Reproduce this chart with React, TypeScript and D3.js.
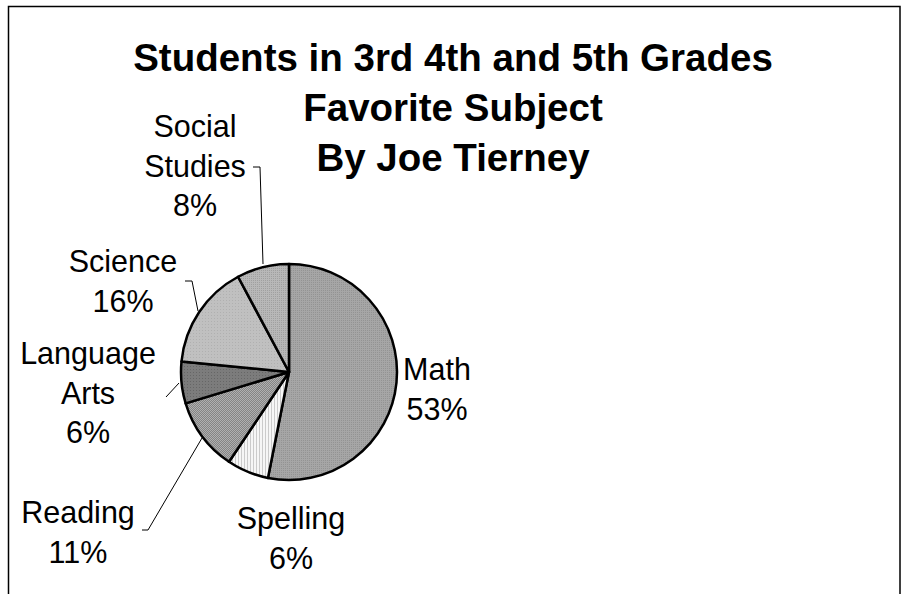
import React from "react";
import * as d3 from "d3";

const titleLines = ["Students in 3rd 4th and 5th Grades", "Favorite Subject", "By Joe Tierney"];
const categories = ["Math", "Spelling", "Reading", "Language Arts", "Science", "Social Studies"];
const values = [34, 4, 7, 4, 10, 5];

// label layout (positions only)
const labelLines: string[][] = [["Math"], ["Spelling"], ["Reading"], ["Language", "Arts"], ["Science"], ["Social", "Studies"]];
const labelPos = [
  { x: 437, y: 380 },
  { x: 291, y: 529 },
  { x: 78, y: 523 },
  { x: 88, y: 364 },
  { x: 123, y: 272 },
  { x: 195, y: 137 },
];
const leaders: ([number, number][] | null)[] = [
  null,
  null,
  [[142, 530], [148, 530], [202, 438]],
  [[166, 397], [179, 383]],
  [[185, 281], [192, 281], [198, 311]],
  [[253, 167], [260, 167], [263, 264]],
];

const patternIds = ["pMath", "pSpell", "pRead", "pLang", "pSci", "pSoc"];

export default function App() {
  const W = 901, H = 594;
  const cx = 289, cy = 372, r = 108;
  const total = d3.sum(values);
  const pie = d3.pie<number>().sort(null).value((d) => d)(values);
  const arc = d3.arc<d3.PieArcDatum<number>>().innerRadius(0).outerRadius(r);
  const font = "'Liberation Sans', Arial, sans-serif";
  const lh = 39.5;

  return (
    <svg width={W} height={H} style={{ position: "absolute", left: 0, top: 0, display: "block", background: "#fff" }}>
      <defs>
        <pattern id="pMath" width="2" height="2" patternUnits="userSpaceOnUse">
          <rect width="2" height="2" fill="#a6a6a6" />
          <rect width="1" height="1" fill="#939393" />
        </pattern>
        <pattern id="pSpell" width="3" height="3" patternUnits="userSpaceOnUse">
          <rect width="3" height="3" fill="#f6f6f6" />
          <rect width="1" height="3" fill="#cbcbcb" />
        </pattern>
        <pattern id="pRead" width="2" height="2" patternUnits="userSpaceOnUse">
          <rect width="2" height="2" fill="#b0b0b0" />
          <rect width="1" height="1" fill="#848484" />
          <rect x="1" y="1" width="1" height="1" fill="#848484" />
        </pattern>
        <pattern id="pLang" width="3" height="3" patternUnits="userSpaceOnUse">
          <rect width="3" height="3" fill="#7c7c7c" />
          <rect width="1" height="1" fill="#666" />
        </pattern>
        <pattern id="pSci" width="3" height="3" patternUnits="userSpaceOnUse">
          <rect width="3" height="3" fill="#c0c0c0" />
          <rect width="1" height="1" fill="#b0b0b0" />
        </pattern>
        <pattern id="pSoc" width="2" height="2" patternUnits="userSpaceOnUse">
          <rect width="2" height="2" fill="#b8b8b8" />
          <rect width="1" height="1" fill="#a0a0a0" />
        </pattern>
      </defs>
      <rect x={8.5} y={6.5} width={891.5} height={700} fill="none" stroke="#000" strokeWidth={1.5} />
      {titleLines.map((t, i) => (
        <text key={i} x={453} y={71 + i * 50} textAnchor="middle" fontFamily={font} fontWeight="bold" fontSize={38.5} fill="#000">
          {t}
        </text>
      ))}
      <g transform={`translate(${cx},${cy})`}>
        {pie.map((p, i) => (
          <path key={i} d={arc(p) || ""} fill={`url(#${patternIds[i]})`} stroke="#000" strokeWidth={2.5} strokeLinejoin="round" />
        ))}
      </g>
      {leaders.map((l, i) =>
        l ? <polyline key={i} points={l.map((p) => p.join(",")).join(" ")} fill="none" stroke="#000" strokeWidth={1} /> : null
      )}
      {categories.map((c, i) => {
        const lines = [...labelLines[i], `${Math.round((values[i] / total) * 100)}%`];
        return (
          <text key={c} fontFamily={font} fontSize={30.5} textAnchor="middle" fill="#000">
            {lines.map((s, j) => (
              <tspan key={j} x={labelPos[i].x} y={labelPos[i].y + j * lh}>
                {s}
              </tspan>
            ))}
          </text>
        );
      })}
    </svg>
  );
}
